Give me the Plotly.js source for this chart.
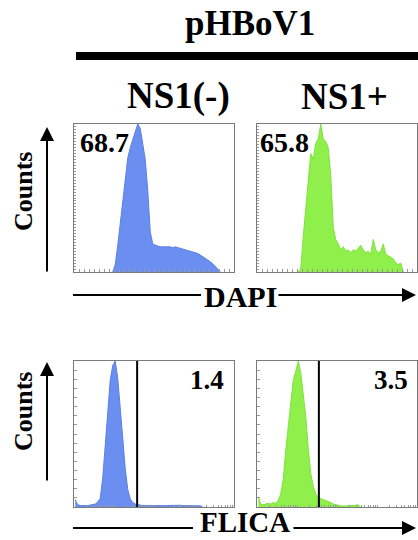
<!DOCTYPE html>
<html><head><meta charset="utf-8">
<script src="https://cdn.plot.ly/plotly-3.0.1.min.js"></script>
<style>html,body{margin:0;padding:0;background:#fff}#chart{width:418px;height:540px}</style>
</head><body><div id="chart"></div>
<script>
// ---- data (channel bins of width 4 over 0..256, counts normalised to peak) ----
const binWidth = 4;
const dapiNegStart = 15;
const dapiNeg = [0,0.05,0.18,0.33,0.50,0.66,0.77,0.84,0.89,0.95,1.0,0.97,0.87,0.76,0.55,0.27,0.19,0.18,0.175,0.17,0.17,0.175,0.17,0.17,0.165,0.17,0.165,0.16,0.16,0.155,0.15,0.145,0.14,0.135,0.125,0.115,0.105,0.095,0.085,0.07,0.055,0.04,0.02,0];
const dapiPosStart = 16;
const dapiPos = [0,0.02,0.24,0.42,0.64,0.80,0.76,0.87,0.90,1.0,0.90,0.88,0.84,0.65,0.30,0.22,0.19,0.15,0.17,0.14,0.15,0.13,0.15,0.14,0.16,0.18,0.15,0.13,0.14,0.12,0.22,0.15,0.13,0.14,0.19,0.12,0.11,0.10,0.09,0.06,0.05,0.06,0];
const flicaNegStart = 0;
const flicaNeg = [0.05,0.015,0.01,0.008,0.01,0.01,0.012,0.015,0.02,0.035,0.06,0.2,0.42,0.67,0.87,0.97,1.0,0.88,0.7,0.47,0.26,0.12,0.055,0.03,0.02,0.015,0.012,0.01,0.011,0.01,0.009,0.01,0.012,0.01,0.01,0.009,0.01,0.011,0.01,0.01,0.009,0.01,0.012,0.01,0.009,0.01,0.01,0.009,0.01,0.008,0.008,0];
const flicaPosStart = 0;
const flicaPos = [0.07,0.02,0.015,0.02,0.025,0.02,0.03,0.025,0.045,0.09,0.19,0.39,0.56,0.73,0.87,0.93,1.0,0.92,0.78,0.62,0.4,0.23,0.14,0.09,0.065,0.055,0.05,0.045,0.04,0.03,0.02,0.015,0.01,0.008,0.006,0.006,0.008,0.006,0.01,0.012,0.015,0];
const gateNeg = 101;   // FLICA gate channel, NS1(-)
const gatePos = 99;    // FLICA gate channel, NS1+
const percentLabels = ["68.7","65.8","1.4","3.5"];
const columnLabels = ["NS1(-)","NS1+"];
const groupLabel = "pHBoV1";
const markerLabels = ["DAPI","FLICA"];
const yLabel = "Counts";

const BLUE = '#6b8ff0', BLUE_LINE = '#5b7fe6';
const GREEN = '#8ff04c', GREEN_LINE = '#7fe23c';

function chan(start, vals){ return vals.map((v,i)=> (start+i)*binWidth + binWidth/2); }
function hist(start, vals, xa, ya, fill, line){
  return {x: chan(start, vals), y: vals, xaxis: xa, yaxis: ya, type:'scatter', mode:'lines',
    fill:'tozeroy', fillcolor: fill, line:{color: line, width:1, shape:'linear'}, hoverinfo:'skip'};
}
function gate(g, xa, ya){
  return {x:[g,g], y:[0,1], xaxis:xa, yaxis:ya, type:'scatter', mode:'lines',
    line:{color:'#000', width:2}, hoverinfo:'skip'};
}

const traces = [
  hist(dapiNegStart, dapiNeg, 'x', 'y', BLUE, BLUE_LINE),
  hist(dapiPosStart, dapiPos, 'x2', 'y2', GREEN, GREEN_LINE),
  hist(flicaNegStart, flicaNeg, 'x3', 'y3', BLUE, BLUE_LINE),
  hist(flicaPosStart, flicaPos, 'x4', 'y4', GREEN, GREEN_LINE),
  gate(gateNeg, 'x3', 'y3'),
  gate(gatePos, 'x4', 'y4')
];

const W = 418, H = 540;
const px = x => x / W;
const py = y => 1 - y / H;

// log-decade tick positions for FLICA axis (4 decades over 256 channels)
const logTicks = [];
for (let d = 0; d < 4; d++) for (let m = 1; m <= 9; m++) logTicks.push(64 * (d + Math.log10(m)));

const baseAx = {showline:true, linecolor:'#7a7a7a', linewidth:1, mirror:true, showgrid:false,
  zeroline:false, showticklabels:false, ticks:'inside', tickcolor:'#9a9a9a', tickwidth:1, fixedrange:true};

function xa(dom, anchor, extra){ return Object.assign({}, baseAx, {domain:dom, anchor:anchor, range:[0,256]}, extra); }
function ya(dom, anchor, extra){ return Object.assign({}, baseAx, {domain:dom, anchor:anchor, range:[0,1.0]}, extra); }

const topY = [py(272), py(124)], botY = [py(507), py(361)];
const leftX = [px(74), px(234)], rightX = [px(257), px(417)];

const serif = "'Liberation Serif', 'Times New Roman', serif";
function txt(t, x, y, size, opts){
  return Object.assign({text:'<b>'+t+'</b>', xref:'paper', yref:'paper', x:px(x), y:py(y),
    showarrow:false, font:{family:serif, size:size, color:'#000'}, xanchor:'center', yanchor:'middle'}, opts||{});
}
function arrow(x, y, ax, ay){
  return {text:'', xref:'paper', yref:'paper', x:px(x), y:py(y), ax:ax, ay:ay, showarrow:true,
    arrowhead:2, arrowsize:1.4, arrowwidth:2, arrowcolor:'#000'};
}

const annotations = [
  txt(groupLabel, 250, 24, 35),
  txt(columnLabels[0], 178, 96, 37),
  txt(columnLabels[1], 344, 96, 37),
  txt(yLabel, 23, 192, 26, {textangle:-90}),
  txt(yLabel, 23, 412, 26, {textangle:-90}),
  txt(markerLabels[0], 240, 296, 30),
  txt(markerLabels[1], 245, 540, 29, {yanchor:'bottom'}),
  txt(percentLabels[0], 78, 142, 28, {xanchor:'left'}),
  txt(percentLabels[1], 258, 142, 28, {xanchor:'left'}),
  txt(percentLabels[2], 226, 380, 27, {xanchor:'right'}),
  txt(percentLabels[3], 410, 380, 27, {xanchor:'right'}),
  arrow(47, 127, 0, 146),
  arrow(47, 362, 0, 120),
  arrow(416, 295, -139, 0),
  arrow(416, 528, -124, 0)
];

const shapes = [
  {type:'line', xref:'paper', yref:'paper', x0:px(76), x1:px(418), y0:py(56), y1:py(56), line:{color:'#000', width:8}},
  {type:'line', xref:'paper', yref:'paper', x0:px(73), x1:px(201), y0:py(295), y1:py(295), line:{color:'#000', width:2}},
  {type:'line', xref:'paper', yref:'paper', x0:px(73), x1:px(193), y0:py(528), y1:py(528), line:{color:'#000', width:2}}
];

const layout = {
  width: W, height: H, margin:{l:0, r:0, t:0, b:0}, showlegend:false,
  paper_bgcolor:'#fff', plot_bgcolor:'#fff',
  xaxis: xa(leftX, 'y', {dtick:8, ticklen:3}),
  yaxis: ya(topY, 'x', {dtick:0.02, ticklen:2}),
  xaxis2: xa(rightX, 'y2', {dtick:8, ticklen:3}),
  yaxis2: ya(topY, 'x2', {dtick:0.02, ticklen:2}),
  xaxis3: xa(leftX, 'y3', {tickmode:'array', tickvals:logTicks, ticklen:2}),
  yaxis3: ya(botY, 'x3', {dtick:1/16, ticklen:3}),
  xaxis4: xa(rightX, 'y4', {tickmode:'array', tickvals:logTicks, ticklen:2}),
  yaxis4: ya(botY, 'x4', {dtick:1/16, ticklen:3}),
  annotations: annotations,
  shapes: shapes
};

Plotly.newPlot('chart', traces, layout, {staticPlot:true, displayModeBar:false});
</script>
</body></html>
